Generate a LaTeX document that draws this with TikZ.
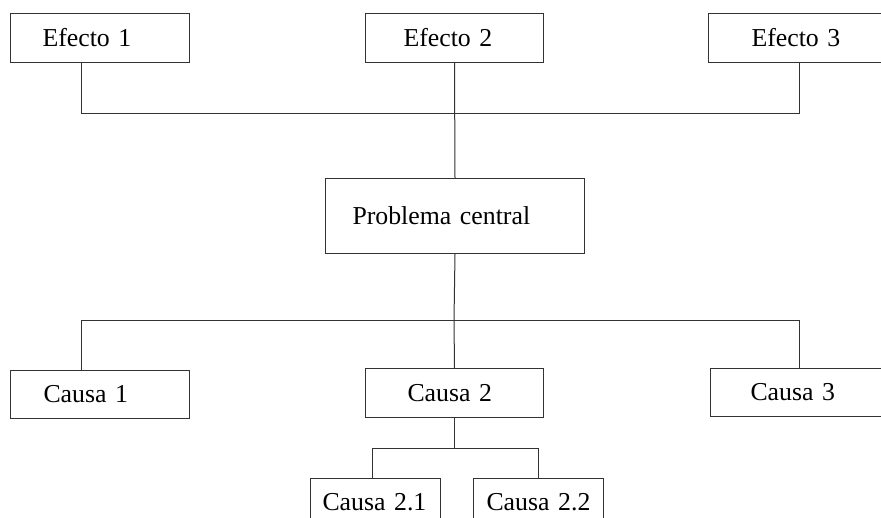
\documentclass[tikz,border=0pt]{standalone}
\usepackage{fontspec}
\setmainfont{Liberation Serif}
\begin{document}
\begin{tikzpicture}[
  x=1pt, y=-1pt,
  linea/.style={draw=black!80, line width=1pt},
  caja/.style={linea, rectangle, anchor=north west, inner ysep=0pt,
    text height=17pt, text depth=1pt, font=\fontsize{25.8}{30}\selectfont}
]
\clip (0,0) rectangle (881,517);
\node[caja, minimum height=49pt, text width=115pt, inner xsep=32pt] (e1) at (10,13) {Efecto 1};
\node[caja, minimum height=49pt, text width=102pt, inner xsep=38pt] (e2) at (365,13) {Efecto 2};
\node[caja, minimum height=49pt, text width=92pt, inner xsep=43pt] (e3) at (708,13) {Efecto 3};
\node[caja, minimum height=75pt, text width=205pt, inner xsep=27pt] (pc) at (325,178) {Problema central};
\node[caja, minimum height=48pt, text width=113pt, inner xsep=33pt] (c1) at (10,370) {Causa 1};
\node[caja, minimum height=49pt, text width=94pt, inner xsep=42pt] (c2) at (365,368) {Causa 2};
\node[caja, minimum height=48pt, text width=98pt, inner xsep=40pt] (c3) at (710,368) {Causa 3};
\node[caja, minimum height=48pt, text width=106pt, inner xsep=12pt] (c21) at (310,478) {Causa 2.1};
\node[caja, minimum height=48pt, text width=104pt, inner xsep=13pt] (c22) at (473,478) {Causa 2.2};

\coordinate (ja) at (81,113);
\coordinate (jc) at (799,113);
\coordinate (ka) at (81,320);
\coordinate (kb) at (454,320);
\coordinate (kc) at (799,320);
\coordinate (ma) at (372,448);
\coordinate (mb) at (538,448);

\draw[linea] (e1.south -| ja) -- (ja) -- (jc) -- (e3.south -| jc);
\draw[linea] (e2.south) -- (pc.north);
\draw[linea] (pc.south) -- (kb);
\draw[linea] (c1.north -| ka) -- (ka) -- (kc) -- (c3.north -| kc);
\draw[linea] (kb) -- (c2.north);
\draw[linea] (c2.south) -- (c2.south |- ma);
\draw[linea] (c21.north -| ma) -- (ma) -- (mb) -- (c22.north -| mb);
\end{tikzpicture}
\end{document}
